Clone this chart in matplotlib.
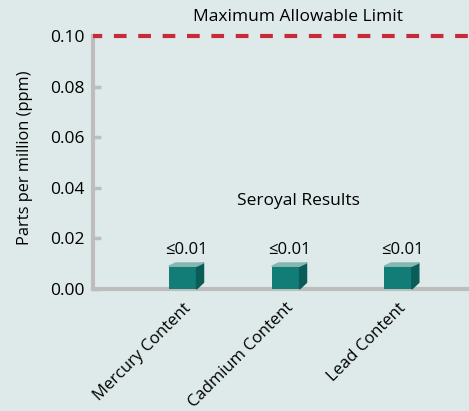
import numpy as np
import matplotlib
matplotlib.use("Agg")
import matplotlib.pyplot as plt
from matplotlib.patches import Polygon

plt.rcParams['font.family'] = ['Open Sans', 'DejaVu Sans']

# data
categories = ["Mercury Content", "Cadmium Content", "Lead Content"]
positions = [0.87, 1.87, 2.96]
results = [0.009, 0.009, 0.009]
result_labels = ["≤0.01", "≤0.01", "≤0.01"]
limit = 0.10
yticks = [0.00, 0.02, 0.04, 0.06, 0.08, 0.10]

bg = "#deeae9"
front = "#127d76"
side = "#0a5c56"
top = "#86b8b3"
grey = "#bdbdbd"

fig = plt.figure(figsize=(4.69, 4.11), dpi=100, facecolor=bg)
ax = fig.add_axes([93/469, 1 - 289/411, 1 - 93/469, 253/411])
ax.set_facecolor(bg)

width = 0.27
dx, dy = 0.068, 0.0013  # depth of the fake 3d box
ax.bar(positions, results, width=width, color=front, zorder=3)
for x, v, lab in zip(positions, results, result_labels):
    l, r = x - width/2, x + width/2
    ax.add_patch(Polygon([(r, 0), (r + dx, dy*2), (r + dx, v + dy), (r, v)],
                         closed=True, color=side, zorder=3, clip_on=False))
    ax.add_patch(Polygon([(l, v), (l + dx, v + dy), (r + dx, v + dy), (r, v)],
                         closed=True, color=top, zorder=3, clip_on=False))
    ax.text(x + 0.04, 0.0122, lab, ha='center', va='bottom', fontsize=12)

ax.axhline(limit, color="#c92a3a", lw=3, linestyle=(0.84, (3.05, 2.8)), zorder=4, clip_on=False)
ax.text(1.99, 0.1042, "Maximum Allowable Limit", ha='center', va='bottom', fontsize=12.5)
ax.text(1.99, 0.0318, "Seroyal Results", ha='center', va='bottom', fontsize=12.5)

ax.set_xlim(0, 3.65)
ax.set_ylim(0, limit)
ax.set_yticks(yticks)
ax.set_yticklabels(["%.2f" % t for t in yticks], fontsize=12.5)
ax.set_xticks(positions)
ax.set_xticklabels(categories, rotation=45, ha='right', rotation_mode='anchor', fontsize=12)
ax.tick_params(axis='y', direction='in', length=6, width=2.5, color=grey, pad=6)
ax.tick_params(axis='x', length=0, pad=8)
ax.set_ylabel("Parts per million (ppm)", fontsize=11.8)
ax.yaxis.set_label_coords(-0.16, 0.52)

for s in ['top', 'right']:
    ax.spines[s].set_visible(False)
for s in ['left', 'bottom']:
    ax.spines[s].set_color(grey)
    ax.spines[s].set_linewidth(3)

fig.savefig("out.png", dpi=100, facecolor=bg)
